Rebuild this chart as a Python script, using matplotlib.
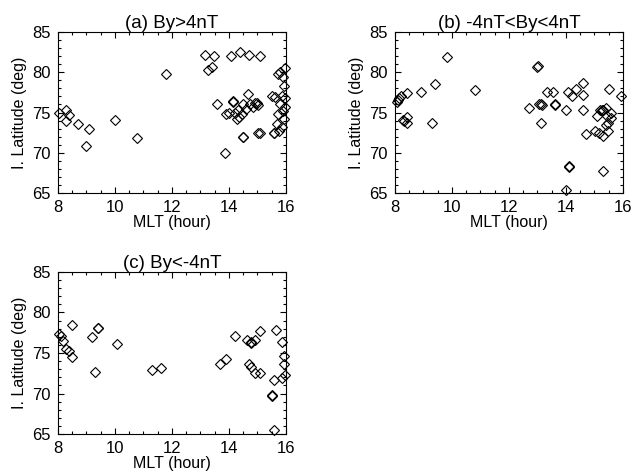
import matplotlib
matplotlib.use("Agg")
import matplotlib.pyplot as plt
from matplotlib.ticker import MultipleLocator

plt.rcParams['font.family'] = ['Liberation Sans', 'DejaVu Sans']

## DATA ###
# (a) By>4nT
mlt_a = [8.05, 8.28, 8.28, 8.40, 8.69, 9.09, 9.00, 10.0, 10.78, 11.79,
         13.16, 13.47, 13.27, 13.39, 14.09, 14.39, 14.71, 15.09,
         13.59, 14.13, 14.15, 14.68, 14.50, 14.74, 14.91, 15.02, 13.89, 14.01,
         14.33, 14.27, 14.36, 14.45, 14.48, 14.50, 15.03, 15.08, 13.88,
         15.50, 15.61, 15.79, 15.73, 15.70, 15.58, 15.60, 15.77, 15.96,
         15.73, 15.81, 15.90, 15.96, 15.95, 14.97, 14.20, 14.60, 14.85,
         15.85, 15.90, 15.96, 15.92, 15.85]
lat_a = [75.0, 75.3, 74.0, 74.75, 73.6, 72.9, 70.8, 74.1, 71.8, 79.8,
         82.1, 82.0, 80.25, 80.6, 82.0, 82.5, 82.1, 82.0,
         76.0, 76.4, 76.3, 77.25, 76.1, 76.1, 76.2, 75.9, 74.8, 75.0,
         75.25, 74.2, 74.4, 74.8, 71.9, 71.9, 72.5, 72.5, 70.0,
         77.1, 76.9, 76.1, 74.8, 73.6, 72.5, 72.4, 72.75, 75.7,
         79.8, 80.0, 79.4, 80.5, 78.25, 76.2, 75.0, 75.4, 75.7,
         77.0, 75.2, 76.8, 74.2, 73.2]

# (b) -4nT<By<4nT
mlt_b = [8.08, 8.12, 8.15, 8.20, 8.43, 8.27, 8.41, 8.41, 8.30, 8.91,
         9.40, 9.31, 9.82, 10.81, 12.70, 13.03, 13.00, 13.06, 13.15, 13.11,
         13.11, 13.32, 13.60, 13.62, 13.53, 14.00, 14.08, 14.20, 14.34, 14.10,
         14.12, 14.00, 14.61, 14.61, 14.61, 14.69, 15.02, 15.10, 15.19, 15.25,
         15.31, 15.17, 15.31, 15.31, 15.43, 15.40, 15.49, 15.49, 15.40, 15.51,
         15.60, 15.60, 15.95]
lat_b = [76.3, 76.5, 76.8, 77.0, 77.4, 74.1, 74.5, 73.7, 73.9, 77.5,
         78.6, 73.7, 81.9, 77.75, 75.6, 80.8, 80.7, 76.0, 75.9, 76.0,
         73.7, 77.5, 76.0, 75.9, 77.5, 75.3, 77.5, 77.0, 77.95, 68.3,
         68.2, 65.4, 78.7, 77.2, 75.3, 72.3, 72.7, 74.6, 75.25, 75.3,
         75.25, 72.5, 72.1, 67.75, 74.6, 73.4, 73.7, 72.7, 75.6, 77.9,
         75.0, 74.3, 77.1]

# (c) By<-4nT
mlt_c = [8.05, 8.10, 8.19, 8.28, 8.40, 8.48, 8.48, 9.18, 9.39, 9.40,
         9.30, 10.08, 11.29, 11.60, 13.68, 13.89, 14.21, 14.64, 14.77, 14.79,
         14.71, 14.77, 14.91, 14.90, 15.09, 15.09, 15.50, 15.51, 15.59, 15.67,
         15.58, 15.88, 15.95, 15.95, 15.88, 15.97]
lat_c = [77.3, 77.1, 76.5, 75.45, 75.25, 74.5, 78.5, 77.0, 78.05, 78.1,
         72.6, 76.1, 72.9, 73.1, 73.7, 74.3, 77.1, 76.6, 76.25, 76.4,
         73.6, 73.3, 76.6, 72.5, 77.7, 72.5, 69.75, 69.8, 71.7, 77.8,
         65.55, 76.3, 74.6, 73.6, 71.9, 72.3]

titles = ['(a) By>4nT', '(b) -4nT<By<4nT', '(c) By<-4nT']
#############


def make_panel(ax, x, y, title):
    ax.plot(x, y, 'D', mfc='none', mec='black', mew=0.8, ms=5.0, clip_on=False)
    ax.set_xlim(8, 16)
    ax.set_ylim(65, 85)
    ax.xaxis.set_major_locator(MultipleLocator(2))
    ax.xaxis.set_minor_locator(MultipleLocator(0.5))
    ax.yaxis.set_major_locator(MultipleLocator(5))
    ax.yaxis.set_minor_locator(MultipleLocator(1))
    ax.tick_params(which='both', direction='in', top=True, right=True,
                   labelsize=12, width=0.8)
    ax.tick_params(which='major', length=4.5, pad=5)
    ax.tick_params(which='minor', length=2.3)
    for s in ax.spines.values():
        s.set_linewidth(0.8)
    ax.set_title(title, fontsize=13.5, pad=3)
    ax.set_xlabel('MLT (hour)', fontsize=11.5, labelpad=0)
    ax.set_ylabel('I. Latitude (deg)', fontsize=11.5, labelpad=4)


fig = plt.figure(figsize=[6.33, 4.76], dpi=100)
ax_a = fig.add_axes([0.0916, 0.5945, 0.360, 0.3383])
ax_b = fig.add_axes([0.624, 0.5945, 0.360, 0.3383])
ax_c = fig.add_axes([0.0916, 0.0882, 0.360, 0.3404])

make_panel(ax_a, mlt_a, lat_a, titles[0])
make_panel(ax_b, mlt_b, lat_b, titles[1])
make_panel(ax_c, mlt_c, lat_c, titles[2])

fig.savefig('out.png', dpi=100)
